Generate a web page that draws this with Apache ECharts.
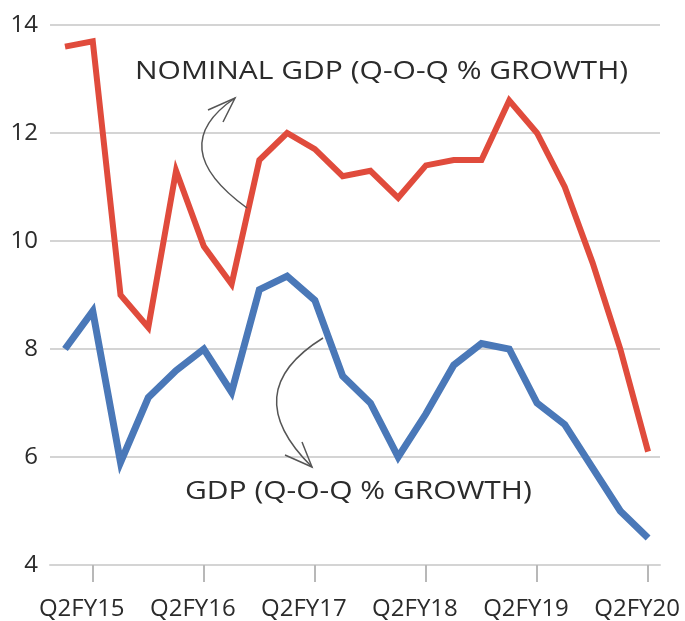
<!DOCTYPE html>
<html>
<head>
<meta charset="utf-8">
<script src="https://cdn.jsdelivr.net/npm/echarts@6/dist/echarts.min.js"></script>
<style>
  html, body { margin: 0; padding: 0; background: #fff; }
  #chart { width: 685px; height: 621px; }
</style>
</head>
<body>
<div id="chart"></div>
<script>
// quarters Q1FY15 .. Q2FY20
let quarters = [
  'Q1FY15', 'Q2FY15', 'Q3FY15', 'Q4FY15',
  'Q1FY16', 'Q2FY16', 'Q3FY16', 'Q4FY16',
  'Q1FY17', 'Q2FY17', 'Q3FY17', 'Q4FY17',
  'Q1FY18', 'Q2FY18', 'Q3FY18', 'Q4FY18',
  'Q1FY19', 'Q2FY19', 'Q3FY19', 'Q4FY19',
  'Q1FY20', 'Q2FY20'
]
let nominalGdp = [13.6, 13.7, 9.0, 8.4, 11.3, 9.9, 9.2, 11.5, 12.0, 11.7, 11.2, 11.3,
  10.8, 11.4, 11.5, 11.5, 12.6, 12.0, 11.0, 9.6, 8.0, 6.1]
let realGdp = [8.0, 8.7, 5.9, 7.1, 7.6, 8.0, 7.2, 9.1, 9.35, 8.9, 7.5, 7.0,
  6.0, 6.8, 7.7, 8.1, 8.0, 7.0, 6.6, 5.8, 5.0, 4.5]
// only the Q2 quarters get a tick and a label
let tickIndex = [1, 5, 9, 13, 17, 21]
let yTicks = [4, 6, 8, 10, 12, 14]

let font = '"Open Sans", "Noto Sans", sans-serif'
let textColor = '#2b2b2b'
let gridColor = '#d4d4d4'
let arrowColor = '#555'

let toPairs = function (arr) {
  return arr.map((v, i) => [i, v])
}

let chartInstance = echarts.init(document.querySelector('#chart'))

let chartOption = {
  animation: false,
  backgroundColor: '#fff',
  grid: { left: 50, right: 25, top: 25, bottom: 56, outerBoundsMode: 'none', containLabel: false },
  xAxis: {
    type: 'value',
    min: -0.54,
    max: 21.43,
    splitLine: { show: false },
    axisLine: { show: true, lineStyle: { color: gridColor, width: 2 } },
    axisTick: {
      show: true,
      customValues: tickIndex,
      length: 17,
      lineStyle: { color: '#b8b8b8', width: 2 }
    },
    axisLabel: {
      customValues: tickIndex,
      formatter: v => quarters[v],
      fontFamily: font,
      fontSize: 24,
      color: textColor,
      margin: 32,
      // labels sit a bit left of their ticks in the original
      padding: [0, 22, 0, 0],
      hideOverlap: false
    }
  },
  yAxis: {
    type: 'value',
    min: yTicks[0],
    max: yTicks[yTicks.length - 1],
    interval: 2,
    axisLine: { show: false },
    axisTick: { show: false },
    splitLine: { lineStyle: { color: gridColor, width: 2 } },
    axisLabel: {
      fontFamily: font,
      fontSize: 24,
      color: textColor,
      margin: 12
    }
  },
  series: [
    {
      name: 'Nominal GDP',
      type: 'line',
      data: toPairs(nominalGdp),
      symbol: 'none',
      lineStyle: { color: '#e04b3c', width: 6, join: 'miter' },
      z: 3
    },
    {
      name: 'GDP',
      type: 'line',
      data: toPairs(realGdp),
      symbol: 'none',
      lineStyle: { color: '#4a78b8', width: 7, join: 'miter' },
      z: 4
    }
  ],
  graphic: [
    // labels (the original type is spaced out, so stretch it a little)
    {
      type: 'text', x: 135, y: 72, z: 10, scaleX: 1.2,
      style: { text: 'NOMINAL GDP (Q-O-Q % GROWTH)', font: '25px ' + font, fill: textColor, verticalAlign: 'middle' }
    },
    {
      type: 'text', x: 185, y: 492, z: 10, scaleX: 1.2,
      style: { text: 'GDP (Q-O-Q % GROWTH)', font: '25px ' + font, fill: textColor, verticalAlign: 'middle' }
    },
    // curved arrows
    {
      type: 'bezierCurve', z: 10,
      shape: { x1: 247, y1: 208, cpx1: 163, cpy1: 147, x2: 235, y2: 98 },
      style: { stroke: arrowColor, lineWidth: 1.5, fill: null }
    },
    {
      type: 'polyline', z: 10,
      shape: { points: [[208, 110], [235, 98], [223, 122]] },
      style: { stroke: arrowColor, lineWidth: 1.5, fill: null }
    },
    {
      type: 'bezierCurve', z: 10,
      shape: { x1: 323, y1: 338, cpx1: 236, cpy1: 392, x2: 312, y2: 467 },
      style: { stroke: arrowColor, lineWidth: 1.5, fill: null }
    },
    {
      type: 'polyline', z: 10,
      shape: { points: [[285, 455], [312, 467], [302, 442]] },
      style: { stroke: arrowColor, lineWidth: 1.5, fill: null }
    }
  ]
}

chartInstance.setOption(chartOption)
</script>
</body>
</html>
